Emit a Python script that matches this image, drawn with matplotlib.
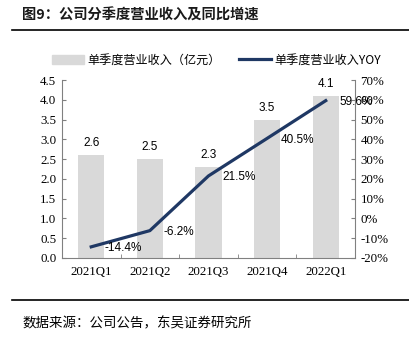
import matplotlib.pyplot as plt
from matplotlib.lines import Line2D

# data
quarters = ['2021Q1', '2021Q2', '2021Q3', '2021Q4', '2022Q1']
revenue = [2.6, 2.5, 2.3, 3.5, 4.1]        # 亿元
yoy = [-14.4, -6.2, 21.5, 40.5, 59.6]      # %

cjk = ['Noto Sans CJK SC', 'DejaVu Sans']
serif = 'Liberation Serif'
navy = '#1F3864'

fig = plt.figure(figsize=(4.1, 3.38), dpi=100)
ax = fig.add_axes([0.151, 0.237, 0.715, 0.526])
x = range(len(quarters))

ax.bar(x, revenue, width=0.45, color='#D9D9D9', zorder=1)
ax.set_ylim(0, 4.5)
ax.set_yticks([i * 0.5 for i in range(10)])
ax.set_yticklabels([f'{i * 0.5:.1f}' for i in range(10)], family=serif, fontsize=9.3)
ax.set_xlim(-0.5, 4.5)
ax.set_xticks(list(x))
ax.set_xticklabels(quarters, family=serif, fontsize=9.3)
ax.set_xticks([i + 0.5 for i in range(-1, 5)], minor=True)
ax.tick_params(axis='x', which='major', length=0, pad=6)
ax.tick_params(axis='x', which='minor', direction='in', length=3, color='#808080')
ax.tick_params(axis='y', direction='in', length=3, color='#808080', pad=4)
for i, v in enumerate(revenue):
    ax.text(i, v + 0.15, f'{v:.1f}', ha='center', va='bottom',
            family='Liberation Sans', fontsize=8.5)
ax.spines['top'].set_visible(False)
ax.spines['right'].set_visible(False)
for s in ['left', 'bottom']:
    ax.spines[s].set_color('#808080')

ax2 = ax.twinx()
ax2.plot(x, yoy, color=navy, linewidth=2.3, zorder=3)
ax2.set_ylim(-20, 70)
ax2.set_yticks(range(-20, 71, 10))
ax2.set_yticklabels([f'{t}%' for t in range(-20, 71, 10)], family=serif, fontsize=9.3)
ax2.tick_params(axis='y', direction='in', length=3, color='#808080', pad=4)
for s in ['top', 'left', 'bottom']:
    ax2.spines[s].set_visible(False)
ax2.spines['right'].set_color('#808080')
for i, v in enumerate(yoy):
    ax2.text(i + 0.23, v - 0.8, f'{v:.1f}%', ha='left', va='center',
             family='Liberation Sans', fontsize=8.5)

# legend
handles = [plt.Rectangle((0, 0), 1, 1, color='#D9D9D9'),
           Line2D([0], [0], color=navy, linewidth=2.3)]
fig.legend(handles, ['单季度营业收入（亿元）', '单季度营业收入YOY'],
           loc='center', bbox_to_anchor=(0.528, 0.822), ncol=2, frameon=False,
           prop={'family': cjk, 'size': 8.7}, handlelength=2.65, columnspacing=1.55,
           handletextpad=0.25)

# title and source
fig.text(0.054, 0.955, '图9：公司分季度营业收入及同比增速', family=cjk, fontsize=10.3,
         fontweight='bold', color='#1a1a1a', va='center')
fig.add_artist(Line2D([0.03, 1.0], [0.91, 0.91], color='black', linewidth=1.2))
fig.add_artist(Line2D([0.03, 1.0], [0.112, 0.112], color='black', linewidth=1.2))
fig.text(0.054, 0.043, '数据来源：公司公告，东吴证券研究所', family=cjk, fontsize=9.7,
         va='center')

fig.savefig('out.png', dpi=100)
